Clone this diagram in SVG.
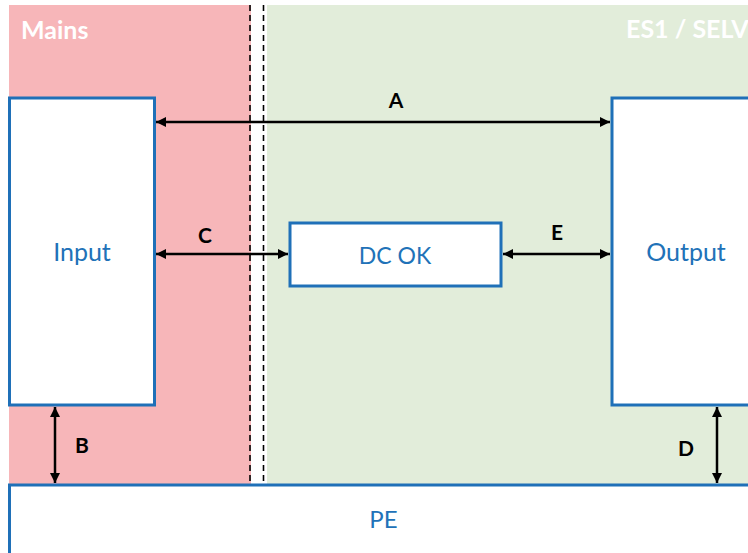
<svg xmlns="http://www.w3.org/2000/svg" width="748" height="553" viewBox="0 0 748 553">
<defs>
<style>
.box{fill:#fff;stroke:#1F70B8;stroke-width:3}
.lbl{font-family:Lato,"Open Sans",sans-serif;font-size:25px;fill:#2172B8;text-anchor:middle}
.conn{stroke:#000;stroke-width:2.5;fill:none;marker-start:url(#ah);marker-end:url(#ah)}
.let{font-family:Lato,"Open Sans",sans-serif;font-size:21px;font-weight:bold;fill:#000;text-anchor:middle}
.zone{font-family:Lato,"Open Sans",sans-serif;font-size:25px;font-weight:bold;fill:#fff}
.dash{stroke:#000;stroke-width:1.6;stroke-dasharray:6,4}
</style>
<marker id="ah" viewBox="0 0 10 10" refX="10" refY="5" markerWidth="4.4" markerHeight="4" orient="auto-start-reverse" markerUnits="strokeWidth">
<path d="M0,0 L10,5 L0,10 z" fill="#000"/>
</marker>
</defs>
<rect x="0" y="0" width="748" height="553" fill="#fff"/>
<g id="zone-mains">
<rect x="9" y="5" width="242" height="480" fill="#F7B6B9"/>
<text class="zone" x="21" y="39">Mains</text>
</g>
<g id="zone-selv">
<rect x="267" y="5" width="481" height="480" fill="#E2EDDA"/>
<text class="zone" x="626" y="38">ES1 / SELV</text>
</g>
<g id="barrier">
<line class="dash" x1="250" y1="5" x2="250" y2="485"/>
<line class="dash" x1="263.5" y1="5" x2="263.5" y2="485"/>
</g>
<g id="input">
<rect class="box" x="9.5" y="98" width="145" height="307"/>
<text class="lbl" x="82" y="261">Input</text>
</g>
<g id="output">
<rect class="box" x="612" y="98" width="140" height="307"/>
<text class="lbl" x="686" y="261">Output</text>
</g>
<g id="dcok">
<rect class="box" x="290" y="223" width="211" height="63"/>
<text class="lbl" x="395" y="263.5" style="font-size:23px">DC OK</text>
</g>
<g id="pe">
<rect class="box" x="9.5" y="485" width="745" height="70"/>
<text class="lbl" x="383.5" y="528" style="font-size:24px">PE</text>
</g>
<g id="connectors">
<line class="conn" x1="156" y1="122" x2="610" y2="122"/>
<line class="conn" x1="156" y1="254" x2="288" y2="254"/>
<line class="conn" x1="503" y1="254" x2="610" y2="254"/>
<line class="conn" x1="55" y1="407" x2="55" y2="483"/>
<line class="conn" x1="717" y1="407" x2="717" y2="483"/>
<text class="let" x="396" y="108">A</text>
<text class="let" x="205" y="243">C</text>
<text class="let" x="557" y="240">E</text>
<text class="let" x="82" y="453">B</text>
<text class="let" x="686" y="456">D</text>
</g>
</svg>
